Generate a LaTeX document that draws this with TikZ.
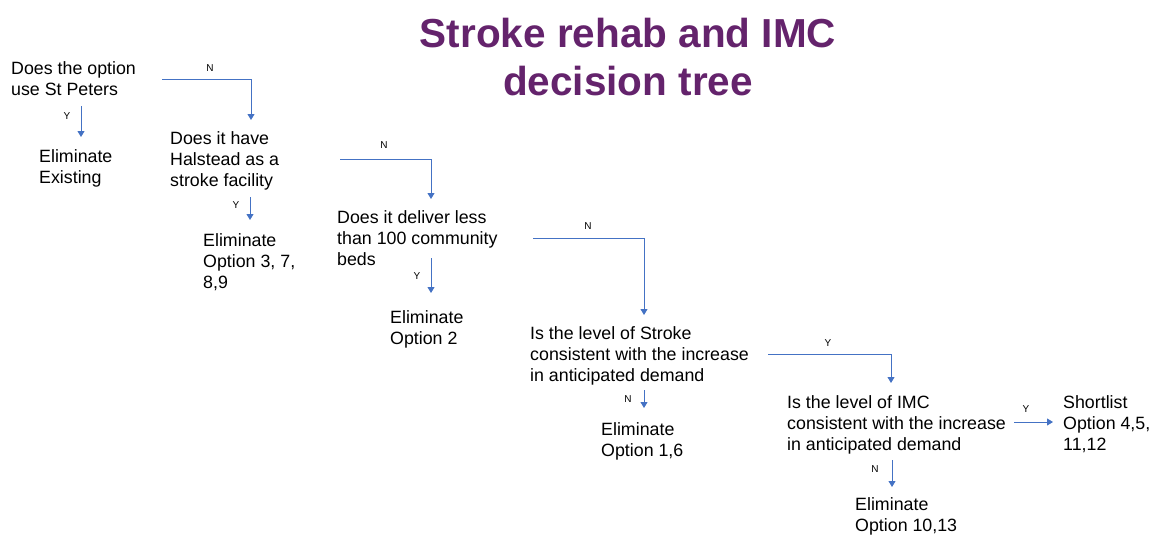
\documentclass[tikz,border=0pt]{standalone}
\usepackage{fontspec}
\setmainfont{Liberation Sans}
\usetikzlibrary{arrows.meta,calc}
\definecolor{linkblue}{HTML}{4472C4}
\definecolor{titlepurple}{HTML}{64236C}
\begin{document}
\begin{tikzpicture}[x=1pt,y=-1pt,
  txt/.style={anchor=north west,inner sep=0pt,align=left,
    font=\fontsize{17.8}{21}\selectfont},
  lbl/.style={inner sep=0pt,font=\fontsize{10}{12}\selectfont},
  arr/.style={draw=linkblue,line width=0.9pt,
    -{Triangle[width=7pt,length=6pt]}}]
\useasboundingbox (0,0) rectangle (1153,535);

% title
\node[anchor=north,inner sep=0pt,align=center,text=titlepurple,
  font=\fontsize{40.5}{48}\selectfont\bfseries] (title) at (628,17.5)
  {Stroke rehab and IMC\\decision tree};

% questions and outcomes
\node[txt] (q1) at (11,61.6) {Does the option\\use St Peters};
\node[txt] (e1) at (39,149.6) {Eliminate\\Existing};
\node[txt] (q2) at (170,131.6) {Does it have\\Halstead as a\\stroke facility};
\node[txt] (e2) at (203,233.6) {Eliminate\\Option 3, 7,\\8,9};
\node[txt] (q3) at (337,210.6) {Does it deliver less\\than 100 community\\beds};
\node[txt] (e3) at (390,310.6) {Eliminate\\Option 2};
\node[txt] (q4) at (530,326.6) {Is the level of Stroke\\consistent with the increase\\in anticipated demand};
\node[txt] (e4) at (601,422.6) {Eliminate\\Option 1,6};
\node[txt] (q5) at (787,395.6) {Is the level of IMC\\consistent with the increase\\in anticipated demand};
\node[txt] (s1) at (1063,395.6) {Shortlist\\Option 4,5,\\11,12};
\node[txt] (e5) at (855,497.6) {Eliminate\\Option 10,13};

% connectors
\draw[arr] ([shift={(151,17.4)}]q1.north west) -| ([shift={(81,-11.6)}]q2.north west);
\draw[arr] ([shift={(70,44.4)}]q1.north west) -- ([shift={(42,-12.6)}]e1.north west);
\draw[arr] ([shift={(170,27.4)}]q2.north west) -| ([shift={(94,-11.6)}]q3.north west);
\draw[arr] ([shift={(80,65.4)}]q2.north west) -- ([shift={(47,-13.6)}]e2.north west);
\draw[arr] ([shift={(196,27.4)}]q3.north west) -| ([shift={(114,-11.6)}]q4.north west);
\draw[arr] ([shift={(94,47.4)}]q3.north west) -- ([shift={(41,-17.6)}]e3.north west);
\draw[arr] ([shift={(238,27.4)}]q4.north west) -| ([shift={(104,-12.6)}]q5.north west);
\draw[arr] ([shift={(114,63.4)}]q4.north west) -- ([shift={(43,-14.6)}]e4.north west);
\draw[arr] ([shift={(227,26.4)}]q5.north west) -- ([shift={(-10,26.4)}]s1.north west);
\draw[arr] ([shift={(105,64.4)}]q5.north west) -- ([shift={(37,-10.6)}]e5.north west);

% branch labels
\node[lbl] (l1) at (210,68) {N};
\node[lbl] (l2) at (67,116) {Y};
\node[lbl] (l3) at (384,145) {N};
\node[lbl] (l4) at (236,205) {Y};
\node[lbl] (l5) at (588,226) {N};
\node[lbl] (l6) at (417,276) {Y};
\node[lbl] (l7) at (828,343) {Y};
\node[lbl] (l8) at (628,399) {N};
\node[lbl] (l9) at (1026,409) {Y};
\node[lbl] (l10) at (875,469) {N};
\end{tikzpicture}
\end{document}
